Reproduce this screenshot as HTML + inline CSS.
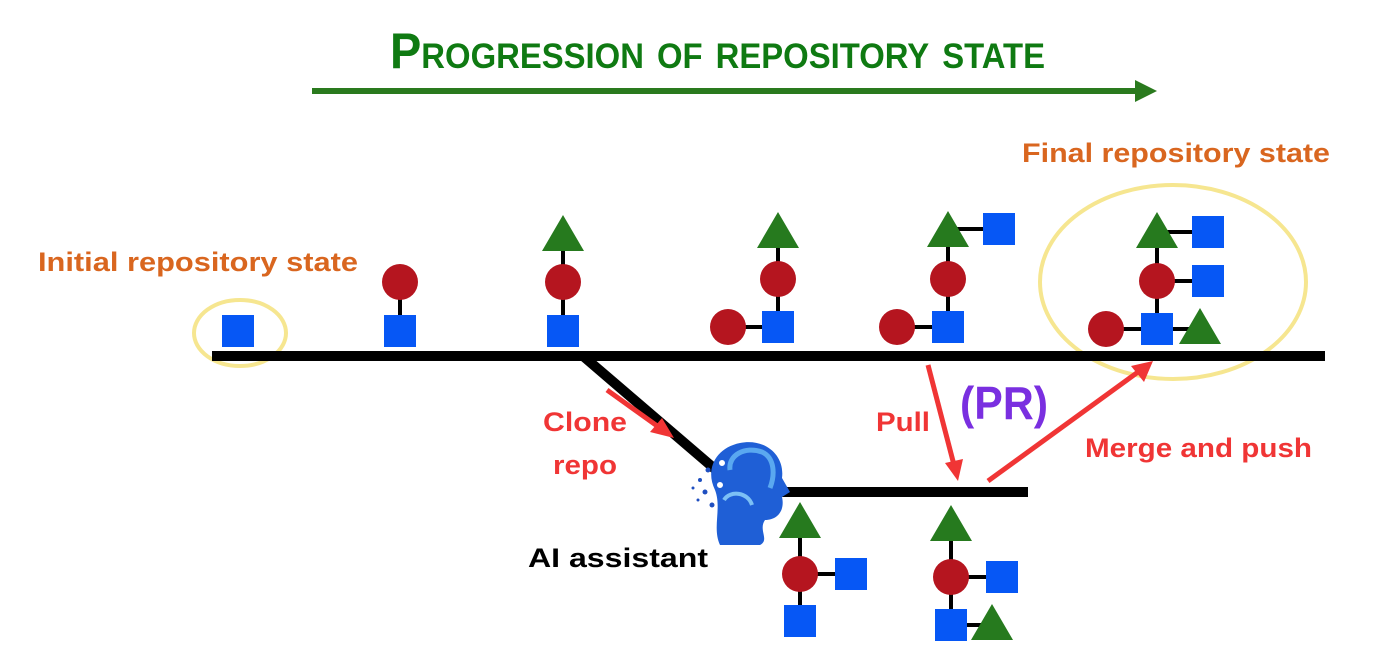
<!DOCTYPE html>
<html><head><meta charset="utf-8"><style>
html,body{margin:0;padding:0;background:#fff;}
svg{display:block;}
text{font-family:"Liberation Sans",sans-serif;font-weight:bold;}
</style></head><body>
<svg width="1400" height="672" viewBox="0 0 1400 672" xmlns="http://www.w3.org/2000/svg">
<defs>
<g id="sq"><rect x="-16" y="-16" width="32" height="32" fill="#0657f5"/></g>
<g id="ci"><circle r="18" fill="#b5151f"/></g>
<g id="tr"><polygon points="0,-19 21,17 -21,17" fill="#267a1e"/></g>
</defs>
<text x="390" y="68" font-size="50" fill="#0f7a12" style="font-variant:small-caps;font-family:'Liberation Sans Narrow','Liberation Sans',sans-serif" textLength="655" lengthAdjust="spacingAndGlyphs">Progression of repository state</text>
<line x1="312" y1="91" x2="1138" y2="91" stroke="#2a7a1e" stroke-width="6"/>
<polygon points="1135,80 1157,91 1135,102" fill="#2a7a1e"/>

<ellipse cx="240" cy="333" rx="46" ry="33" fill="none" stroke="#f6e690" stroke-width="4"/>
<ellipse cx="1173" cy="282" rx="133" ry="97" fill="none" stroke="#f6e690" stroke-width="4"/>

<line x1="212" y1="356" x2="1325" y2="356" stroke="#000" stroke-width="10"/>
<line x1="583" y1="356" x2="716" y2="470" stroke="#000" stroke-width="10"/>
<line x1="780" y1="492" x2="1028" y2="492" stroke="#000" stroke-width="10"/>

<g stroke="#000" stroke-width="4">
<line x1="400" y1="282" x2="400" y2="331"/>
<line x1="563" y1="236" x2="563" y2="331"/>
<line x1="778" y1="236" x2="778" y2="327"/><line x1="728" y1="327" x2="778" y2="327"/>
<line x1="948" y1="232" x2="948" y2="327"/><line x1="897" y1="327" x2="948" y2="327"/><line x1="948" y1="229" x2="999" y2="229"/>
<line x1="1157" y1="233" x2="1157" y2="329"/><line x1="1106" y1="329" x2="1200" y2="329"/><line x1="1157" y1="232" x2="1208" y2="232"/><line x1="1157" y1="281" x2="1208" y2="281"/>
<line x1="800" y1="523" x2="800" y2="621"/><line x1="800" y1="574" x2="851" y2="574"/>
<line x1="951" y1="526" x2="951" y2="625"/><line x1="951" y1="577" x2="1002" y2="577"/><line x1="951" y1="625" x2="992" y2="625"/>
</g>

<use href="#sq" x="238" y="331"/>
<use href="#sq" x="400" y="331"/><use href="#ci" x="400" y="282"/>
<use href="#sq" x="563" y="331"/><use href="#ci" x="563" y="282"/><use href="#tr" x="563" y="234"/>
<use href="#sq" x="778" y="327"/><use href="#ci" x="778" y="279"/><use href="#tr" x="778" y="231"/><use href="#ci" x="728" y="327"/>
<use href="#sq" x="948" y="327"/><use href="#ci" x="948" y="279"/><use href="#tr" x="948" y="230"/><use href="#ci" x="897" y="327"/><use href="#sq" x="999" y="229"/>
<use href="#sq" x="1157" y="329"/><use href="#ci" x="1157" y="281"/><use href="#tr" x="1157" y="231"/><use href="#sq" x="1208" y="232"/><use href="#sq" x="1208" y="281"/><use href="#ci" x="1106" y="329"/><use href="#tr" x="1200" y="327"/>
<use href="#tr" x="800" y="521"/><use href="#ci" x="800" y="574"/><use href="#sq" x="851" y="574"/><use href="#sq" x="800" y="621"/>
<use href="#tr" x="951" y="524"/><use href="#ci" x="951" y="577"/><use href="#sq" x="1002" y="577"/><use href="#sq" x="951" y="625"/><use href="#tr" x="992" y="623"/>

<g stroke="#f03535" stroke-width="5" fill="#f03535">
<line x1="607" y1="390" x2="660" y2="428"/>
<line x1="928" y1="365" x2="954" y2="465"/>
<line x1="988" y1="481" x2="1138" y2="372"/>
</g>
<polygon points="674,438 650,432 662,418" fill="#f03535"/>
<polygon points="958,481 945,463 963,459" fill="#f03535"/>
<polygon points="1153,361 1144,382 1131,366" fill="#f03535"/>

<g>
<path d="M720,545 C712,528 722,508 715,490 C705,470 715,448 740,443 C765,438 785,455 782,478 L790,492 L782,497 C785,510 778,520 765,520 C758,530 770,540 760,545 Z" fill="#1f5fd6"/>
<path d="M730,470 C728,455 745,446 762,452 C775,458 775,475 770,488" fill="none" stroke="#5aa8f0" stroke-width="5"/>
<path d="M724,500 C730,490 748,492 752,505" fill="none" stroke="#7cc0f5" stroke-width="4"/>
<circle cx="722" cy="463" r="4" fill="#fff" stroke="#1f5fd6" stroke-width="2"/>
<circle cx="720" cy="485" r="4" fill="#fff" stroke="#1f5fd6" stroke-width="2"/>
<g fill="#1f4fc0"><circle cx="708" cy="470" r="2.5"/><circle cx="700" cy="480" r="2"/><circle cx="705" cy="492" r="2.5"/><circle cx="712" cy="505" r="2.5"/><circle cx="693" cy="488" r="1.5"/><circle cx="698" cy="500" r="1.5"/></g>
</g>

<text x="1022" y="162" font-size="27" fill="#d9661f" textLength="308" lengthAdjust="spacingAndGlyphs">Final repository state</text>
<text x="38" y="271" font-size="27" fill="#d9661f" textLength="320" lengthAdjust="spacingAndGlyphs">Initial repository state</text>
<text x="543" y="431" font-size="27" fill="#f03535" textLength="84" lengthAdjust="spacingAndGlyphs">Clone</text>
<text x="553" y="474" font-size="27" fill="#f03535" textLength="64" lengthAdjust="spacingAndGlyphs">repo</text>
<text x="876" y="431" font-size="27" fill="#f03535" textLength="54" lengthAdjust="spacingAndGlyphs">Pull</text>
<text x="960" y="419" font-size="46" fill="#7a2fe0" textLength="88" lengthAdjust="spacingAndGlyphs">(PR)</text>
<text x="1085" y="457" font-size="27" fill="#f03535" textLength="227" lengthAdjust="spacingAndGlyphs">Merge and push</text>
<text x="528" y="567" font-size="27" fill="#000" textLength="180" lengthAdjust="spacingAndGlyphs">AI assistant</text>
</svg>
</body></html>
